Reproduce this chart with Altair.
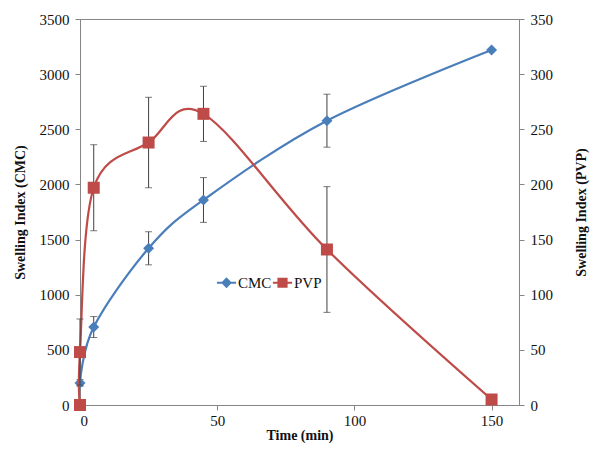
import altair as alt
import pandas as pd

# ---- data ----
time_cmc = [0, 5, 25, 45, 90, 150]
si_cmc = [200, 707, 1421, 1859, 2578, 3219]
err_cmc = [30, 95, 150, 203, 240, 0]

time_pvp = [0, 0, 5, 25, 45, 90, 150]
si_pvp = [0, 48, 197, 238, 264, 141, 5]
err_pvp = [0, 30, 39, 41, 25, 57, 0]

series = ["CMC", "PVP"]
colors = ["#4A7EBB", "#BE4B48"]

x_ticks = [0, 50, 100, 150]
left_ticks = [0, 500, 1000, 1500, 2000, 2500, 3000, 3500]
right_ticks = [0, 50, 100, 150, 200, 250, 300, 350]

FONT = "Liberation Serif"
AXIS_COL = "#868686"
TXT = "#111111"

df_cmc = pd.DataFrame({"t": time_cmc, "v": si_cmc, "e": err_cmc, "i": range(len(time_cmc))})
df_pvp = pd.DataFrame({"t": time_pvp, "v": si_pvp, "e": err_pvp, "i": range(len(time_pvp))})

common_axis = dict(grid=False, format="d", labelFont=FONT, labelFontSize=15, labelColor=TXT,
                   titleFont=FONT, titleFontSize=14, titleFontWeight="bold", titleColor=TXT,
                   domainColor=AXIS_COL, tickColor=AXIS_COL, tickSize=5)

xenc = alt.X("t:Q", scale=alt.Scale(domain=[0, 160], nice=False),
             axis=alt.Axis(values=x_ticks, title="Time (min)", labelPadding=3, titlePadding=0,
                           **common_axis))

# ---- CMC (left axis) ----
y_cmc = alt.Y("v:Q", scale=alt.Scale(domain=[0, 3500], nice=False),
              axis=alt.Axis(values=left_ticks, title="Swelling Index (CMC)", orient="left",
                            labelPadding=6, titlePadding=12, **common_axis))
cmc_base = alt.Chart(df_cmc)
cmc_err = cmc_base.transform_filter("datum.e > 0").mark_errorbar(
    ticks={"size": 7}, color="#404040", thickness=1
).encode(x=xenc, y=alt.Y("v:Q", title="Swelling Index (CMC)"), yError="e:Q")
cmc_line = cmc_base.mark_line(interpolate="cardinal", strokeWidth=2.2, color=colors[0]).encode(
    x=xenc, y=y_cmc, order="i:Q")
cmc_pts = cmc_base.mark_point(shape="diamond", filled=True, size=121, opacity=1, color=colors[0]).encode(
    x=xenc, y=y_cmc)
cmc_layer = alt.layer(cmc_line, cmc_err, cmc_pts)

# ---- PVP (right axis) ----
y_pvp = alt.Y("v:Q", scale=alt.Scale(domain=[0, 350], nice=False),
              axis=alt.Axis(values=right_ticks, title="Swelling Index (PVP)", orient="right",
                            titleAngle=270, labelPadding=6, titlePadding=36, **common_axis))
pvp_base = alt.Chart(df_pvp)
pvp_err = pvp_base.transform_filter("datum.e > 0").mark_errorbar(
    ticks={"size": 7}, color="#404040", thickness=1
).encode(x=xenc, y=alt.Y("v:Q", title="Swelling Index (PVP)"), yError="e:Q")
pvp_line = pvp_base.mark_line(interpolate="cardinal", strokeWidth=2.2, color=colors[1]).encode(
    x=xenc, y=y_pvp, order="i:Q")
pvp_pts = pvp_base.mark_point(shape="square", filled=True, size=144, opacity=1, color=colors[1]).encode(
    x=xenc, y=y_pvp)
pvp_layer = alt.layer(pvp_line, pvp_err, pvp_pts)

# ---- legend helper (line + marker symbols) ----
diamond_path = "M-1.6,-0.17H1.6V0.17H-1.6Z M0,-0.9L0.9,0L0,0.9L-0.9,0Z"
square_path = "M-1.6,-0.17H1.6V0.17H-1.6Z M-0.85,-0.85H0.85V0.85H-0.85Z"
legend_df = pd.DataFrame({"s": series})
leg = alt.Legend(title=None, orient="none", legendX=139, legendY=256, direction="horizontal",
                 symbolSize=144, symbolOpacity=1, symbolStrokeWidth=0,
                 labelFont=FONT, labelFontSize=15, labelColor=TXT,
                 labelOffset=4, columnPadding=0, padding=0)
legend_layer = alt.Chart(legend_df).mark_point(filled=True, opacity=0).encode(
    x=alt.value(0), y=alt.value(0),
    color=alt.Color("s:N", scale=alt.Scale(domain=series, range=colors), legend=leg),
    shape=alt.Shape("s:N", scale=alt.Scale(domain=series, range=[diamond_path, square_path]), legend=leg),
)

chart = alt.layer(cmc_layer, pvp_layer, legend_layer).resolve_scale(
    y="independent"
).properties(
    width=439, height=386,
    autosize=alt.AutoSizeParams(type="none"),
    padding={"left": 72, "top": 11, "right": 72, "bottom": 38},
).configure_view(
    stroke=AXIS_COL, strokeWidth=1
)

chart.save("out.html", embed_options={"renderer": "svg", "actions": False})
